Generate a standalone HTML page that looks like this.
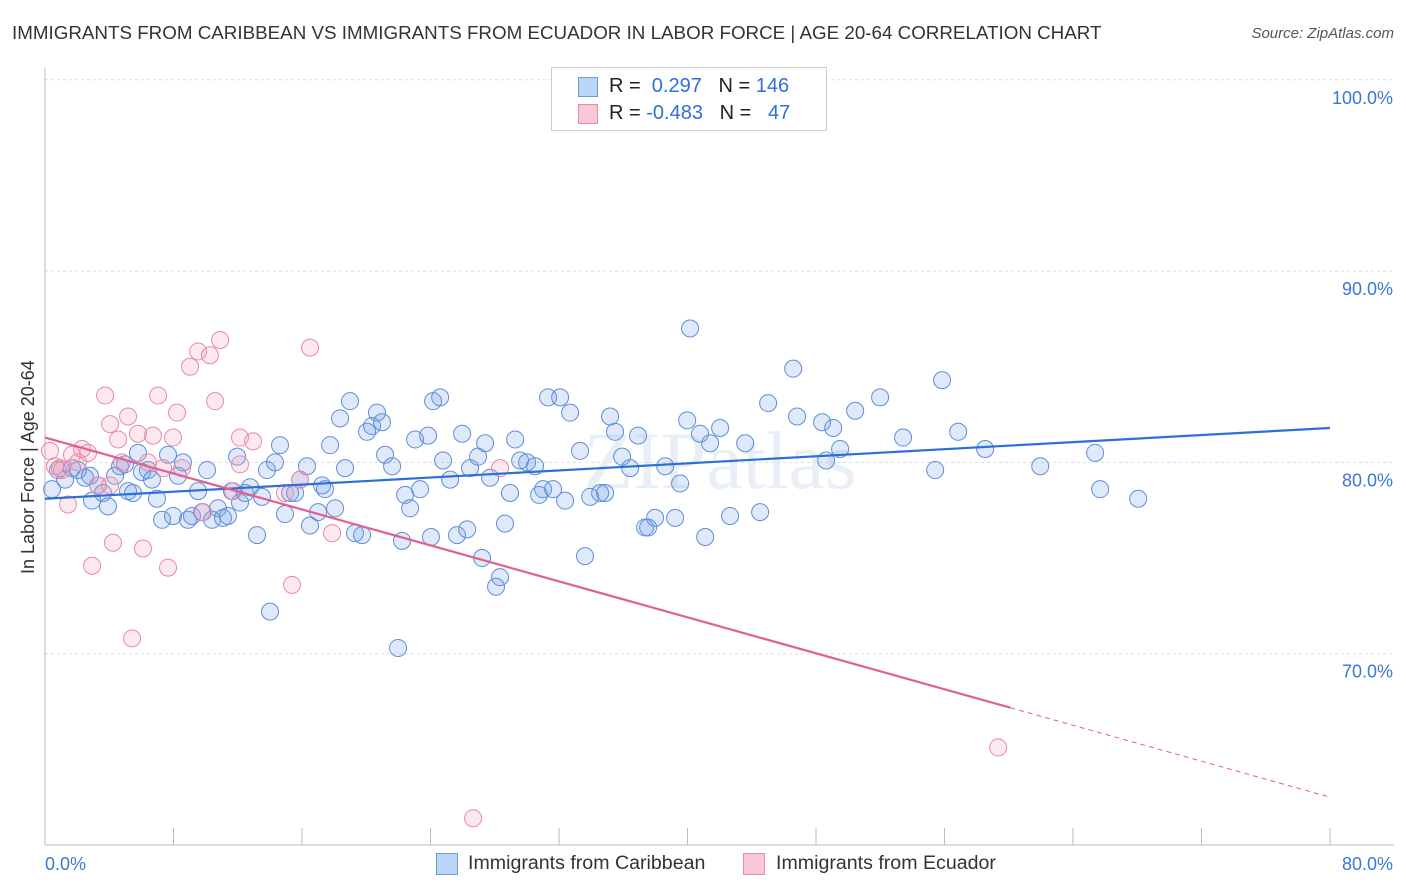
<!DOCTYPE html>
<html><head><meta charset="utf-8"><style>
body{margin:0;background:#fff;font-family:"Liberation Sans",sans-serif;}
#wrap{position:relative;width:1406px;height:892px;overflow:hidden;}
.t{position:absolute;white-space:nowrap;}
</style></head><body>
<div id="wrap">
<div class="t" style="left:12px;top:22px;font-size:18.8px;color:#333;">IMMIGRANTS FROM CARIBBEAN VS IMMIGRANTS FROM ECUADOR IN LABOR FORCE | AGE 20-64 CORRELATION CHART</div>
<div class="t" style="right:12px;top:25px;font-size:15px;color:#555;font-style:italic;">Source: ZipAtlas.com</div>
<div class="t" style="left:18px;top:574px;font-size:18px;color:#333;transform:rotate(-90deg);transform-origin:0 0;">In Labor Force | Age 20-64</div>
<svg id="svg" width="1406" height="892" style="position:absolute;left:0;top:0"></svg>
<div style="position:absolute;left:551px;top:67px;width:274px;height:62px;border:1px solid #ccc;background:#fff;">
 <div style="position:absolute;left:26px;top:9px;width:18px;height:18px;background:#bcd4f5;border:1px solid #6b9be0;"></div>
 <div class="t" style="left:57px;top:7px;font-size:20px;color:#222;">R = &nbsp;<span style="color:#2f6fd6">0.297</span> &nbsp;&nbsp;N = <span style="color:#2f6fd6">146</span></div>
 <div style="position:absolute;left:26px;top:36px;width:18px;height:18px;background:#f8c8d8;border:1px solid #e88aa8;"></div>
 <div class="t" style="left:57px;top:34px;font-size:20px;color:#222;">R = <span style="color:#2f6fd6">-0.483</span> &nbsp;&nbsp;N = &nbsp;&nbsp;<span style="color:#2f6fd6">47</span></div>
</div>
<div style="position:absolute;left:436px;top:853px;width:20px;height:20px;background:#bcd4f5;border:1px solid #6b9be0;"></div>
<div class="t" style="left:468px;top:852px;font-size:19.6px;color:#333;">Immigrants from Caribbean</div>
<div style="position:absolute;left:743px;top:853px;width:20px;height:20px;background:#f8c8d8;border:1px solid #e88aa8;"></div>
<div class="t" style="left:776px;top:852px;font-size:19.6px;color:#333;">Immigrants from Ecuador</div>
</div>
<script>
const blueX=[0.44,0.81,1.25,1.68,2.05,2.49,2.8,2.93,3.3,3.61,3.92,4.36,4.67,4.98,5.17,5.48,5.79,6.04,6.41,6.66,6.97,7.29,7.66,7.97,8.28,8.59,8.9,9.15,9.53,9.78,10.09,10.4,10.77,11.08,11.39,11.64,11.96,12.14,12.45,12.77,13.2,13.51,13.82,14.01,14.32,14.63,14.94,15.26,15.57,15.88,16.31,16.5,17.0,17.25,17.43,17.75,18.06,18.37,18.68,18.99,19.3,19.74,20.05,20.36,20.67,20.98,21.17,21.61,21.98,22.23,22.42,22.73,23.04,23.35,23.85,24.03,24.16,24.6,24.78,25.22,25.65,25.97,26.28,26.46,26.96,27.21,27.4,27.71,28.08,28.33,28.64,28.95,29.27,29.58,30.01,30.51,30.76,31.01,31.32,31.63,32.07,32.38,32.69,33.31,33.62,33.94,34.56,34.87,35.18,35.49,35.93,36.43,36.92,37.36,37.55,37.98,38.61,39.23,39.54,39.98,40.16,40.78,41.1,41.41,42.03,42.65,43.59,44.52,45.02,46.58,46.82,48.38,48.63,49.07,49.5,50.44,51.99,53.42,55.42,55.85,56.85,58.53,61.96,65.38,65.69,68.06];
const blueY=[78.6,79.6,79.1,79.7,79.6,79.2,79.3,78.0,78.8,78.4,77.7,79.3,79.8,79.9,78.5,78.4,80.5,79.5,79.6,79.1,78.1,77.0,80.4,77.2,79.3,80.0,77.0,77.2,78.5,77.4,79.6,77.0,77.6,77.1,77.2,78.5,80.3,77.9,78.4,78.7,76.2,78.2,79.6,72.2,80.0,80.9,77.3,78.4,78.4,79.1,79.8,76.7,77.4,78.8,78.6,80.9,77.6,82.3,79.7,83.2,76.3,76.2,81.6,81.9,82.6,82.1,80.4,79.8,70.3,75.9,78.3,77.6,81.2,78.6,81.4,76.1,83.2,83.4,80.1,79.1,76.2,81.5,76.5,79.7,80.3,75.0,81.0,79.2,73.5,74.0,76.8,78.4,81.2,80.1,80.0,79.8,78.3,78.6,83.4,78.6,83.4,78.0,82.6,80.6,75.1,78.2,78.4,78.4,82.4,81.6,80.3,79.7,81.4,76.6,76.6,77.1,79.8,77.1,78.9,82.2,87.0,81.5,76.1,81.0,81.8,77.2,81.0,77.4,83.1,84.9,82.4,82.1,80.1,81.8,80.7,82.7,83.4,81.3,79.6,84.3,81.6,80.7,79.8,80.5,78.6,78.1];
const pinkX=[0.31,0.62,1.06,1.43,1.68,2.05,2.3,2.68,2.93,3.3,3.74,4.05,4.23,4.55,4.79,5.17,5.42,5.79,6.1,6.41,6.72,7.04,7.35,7.66,7.97,8.22,8.53,9.03,9.53,9.84,10.27,10.59,10.9,11.71,12.14,12.95,14.94,15.38,15.88,16.5,17.87,28.33,59.34,26.65,12.14,0.93,4.05];
const pinkY=[80.6,79.8,79.6,77.8,80.4,80.0,80.7,80.5,74.6,78.8,83.5,82.0,75.8,81.2,80.0,82.4,70.8,81.5,75.5,80.0,81.4,83.5,79.7,74.5,81.3,82.6,79.7,85.0,85.8,77.4,85.6,83.2,86.4,78.5,81.3,81.1,78.4,73.6,79.1,86.0,76.3,79.7,65.1,61.4,79.9,79.7,78.8];
const blueTrend=[78.1,81.8];
const pinkTrend=[81.3,62.5];
const pinkSolidEnd=60.1;
const yTicks=[70,80,90,100];
const xTicks=[0,8,16,24,32,40,48,56,64,72,80];
const xs=v=>45+v*16.0625;
const ys=v=>845-(v-60)*19.13;
const svg=document.getElementById('svg');
const NS='http://www.w3.org/2000/svg';
function mk(tag,attrs){const e=document.createElementNS(NS,tag);for(const k in attrs)e.setAttribute(k,attrs[k]);svg.appendChild(e);return e;}
let wm=mk('text',{x:720,y:488,'font-size':82,'text-anchor':'middle',fill:'#e9eff7','font-family':'Liberation Serif, serif'});


wm.textContent='ZIPatlas';
yTicks.forEach(t=>{
 const l=mk('line',{x1:45,x2:1394,y1:ys(t),y2:ys(t),stroke:'#ddd','stroke-dasharray':'3,3'});
 
 
 const tx=mk('text',{x:1393,y:ys(t)+24,'font-size':18,'text-anchor':'end',fill:'#3a78d4','font-family':'Liberation Sans, sans-serif'});
 
 
 tx.textContent=t.toFixed(1)+'%';
});
let ax=mk('line',{x1:45,x2:45,y1:68,y2:845,stroke:'#bbb'});


let bx=mk('line',{x1:45,x2:1394,y1:845,y2:845,stroke:'#bbb'});


xTicks.forEach(t=>{
 const l=mk('line',{x1:xs(t),x2:xs(t),y1:828,y2:845,stroke:'#bbb'});
 
 
});
[[0,'start',45],[80,'end',1393]].forEach(([v,a,x])=>{
 const tx=mk('text',{x:x,y:870,'font-size':18,'text-anchor':a,fill:'#3a78d4','font-family':'Liberation Sans, sans-serif'});
 
 
 tx.textContent=v.toFixed(1)+'%';
});
blueX.forEach((x,i)=>{
 const c=mk('circle',{cx:xs(x),cy:ys(blueY[i]),r:8.5,fill:'rgba(110,155,230,0.22)',stroke:'#5d8fd8','stroke-width':1});
 
 
});
pinkX.forEach((x,i)=>{
 const c=mk('circle',{cx:xs(x),cy:ys(pinkY[i]),r:8.5,fill:'rgba(240,150,180,0.22)',stroke:'#e88aa8','stroke-width':1});
 
 
});
let bl=mk('line',{x1:xs(0),y1:ys(blueTrend[0]),x2:xs(80),y2:ys(blueTrend[1]),stroke:'#2d6fd6','stroke-width':2.2});


const pAt=x=>pinkTrend[0]+(pinkTrend[1]-pinkTrend[0])*x/80;
let pl=mk('line',{x1:xs(0),y1:ys(pinkTrend[0]),x2:xs(pinkSolidEnd),y2:ys(pAt(pinkSolidEnd)),stroke:'#e0608e','stroke-width':2.2});


let pd=mk('line',{x1:xs(pinkSolidEnd),y1:ys(pAt(pinkSolidEnd)),x2:xs(80),y2:ys(pinkTrend[1]),stroke:'#e0608e','stroke-width':1,'stroke-dasharray':'5,4'});


</script>
</body></html>
